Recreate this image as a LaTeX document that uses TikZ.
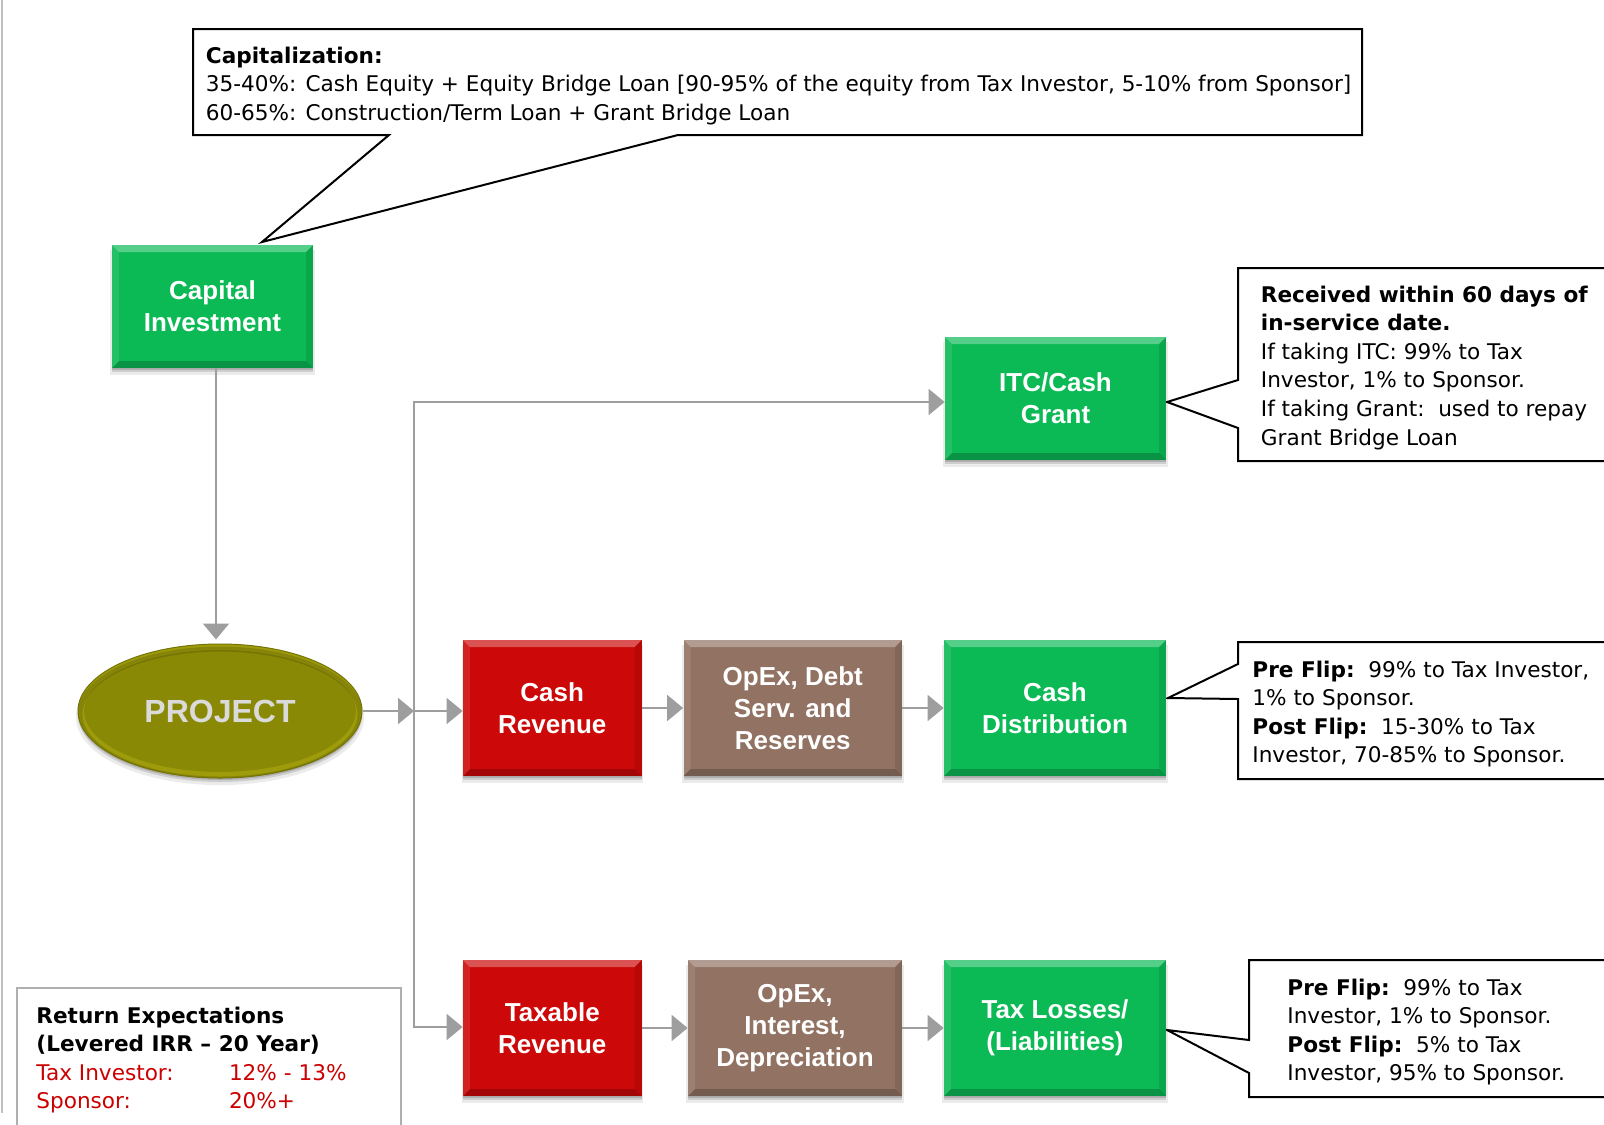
\documentclass[tikz,border=0pt]{standalone}
\usepackage{fontspec}
\setmainfont{Liberation Sans}
\newfontfamily\notefont{DejaVu Sans}
\usetikzlibrary{shapes.geometric,shadows,arrows.meta,calc}

\definecolor{boxgreen}{RGB}{11,185,85}
\definecolor{boxred}{RGB}{204,8,8}
\definecolor{boxbrown}{RGB}{145,114,99}
\definecolor{olivefill}{RGB}{137,137,5}
\definecolor{flowgray}{RGB}{158,158,158}
\definecolor{framegray}{RGB}{175,175,175}
\definecolor{notered}{RGB}{204,0,0}
\definecolor{projtext}{RGB}{218,218,218}

\tikzset{
  bevel/.style={path picture={
    \fill[white,opacity=.3] (path picture bounding box.north west) -- (path picture bounding box.north east)
      -- ([shift={(-3.5pt,-3.5pt)}]path picture bounding box.north east) -- ([shift={(3.5pt,-3.5pt)}]path picture bounding box.north west) -- cycle;
    \fill[black,opacity=.2] (path picture bounding box.south west) -- (path picture bounding box.south east)
      -- ([shift={(-3.5pt,3.5pt)}]path picture bounding box.south east) -- ([shift={(3.5pt,3.5pt)}]path picture bounding box.south west) -- cycle;
    \fill[white,opacity=.1] (path picture bounding box.north west) -- ([shift={(3.5pt,-3.5pt)}]path picture bounding box.north west)
      -- ([shift={(3.5pt,3.5pt)}]path picture bounding box.south west) -- (path picture bounding box.south west) -- cycle;
    \fill[black,opacity=.1] (path picture bounding box.north east) -- ([shift={(-3.5pt,-3.5pt)}]path picture bounding box.north east)
      -- ([shift={(-3.5pt,3.5pt)}]path picture bounding box.south east) -- (path picture bounding box.south east) -- cycle;
  }},
  softshadow/.style={
    drop shadow={shadow xshift=0pt, shadow yshift=-3pt, shadow scale=1.015, opacity=.08, fill=black},
    drop shadow={shadow xshift=0pt, shadow yshift=-2pt, opacity=.12, fill=black},
    drop shadow={shadow xshift=0pt, shadow yshift=-1pt, opacity=.15, fill=black}},
  flowbox/.style={rectangle, fill=#1, inner sep=0pt, text=white, align=center,
    font=\fontsize{13}{15.9}\selectfont\bfseries, bevel, softshadow},
  wide/.style={minimum width=111pt, minimum height=68pt},
  narrow/.style={minimum width=89.25pt, minimum height=68pt},
  flowarrow/.style={draw=flowgray, line width=1pt, -{Triangle[length=8pt,width=13pt]}},
  callout/.style={draw=black, line width=1pt, fill=white},
  notetext/.style={inner sep=0pt, anchor=base west, align=left,
    font=\notefont\fontsize{10.8}{14.3}\selectfont},
}

\begin{document}
\begin{tikzpicture}[x=0.5pt,y=-0.5pt]
\path[use as bounding box] (0,0) rectangle (1604,1124);
\clip (0,0) rectangle (1604,1124);
\fill[white] (0,0) rectangle (1604,1124);

% page edge line on the left
\draw[draw=framegray!80, line width=1pt] (1.5,0) -- (1.5,1113);

% ---- callouts ----
\draw[callout] (193,29) -- (1362,29) -- (1362,135) -- (678,135) -- (262,242) -- (389,135) -- (193,135) -- cycle;
\node[notetext] (captext) at (205.5,63) {\begin{tabular}[t]{@{}l@{}}
\textbf{Capitalization:}\\
35-40\%: Cash Equity + Equity Bridge Loan [90-95\% of the equity from Tax Investor, 5-10\% from Sponsor]\\
60-65\%: Construction/Term Loan + Grant Bridge Loan
\end{tabular}};

\draw[callout] (1238,268) -- (1610,268) -- (1610,461) -- (1238,461) -- (1238,428) -- (1167,402) -- (1238,380) -- cycle;
\node[notetext] (itctext) at (1260.5,302) {\begin{tabular}[t]{@{}l@{}}
\textbf{Received within 60 days of}\\
\textbf{in-service date.}\\
If taking ITC: 99\% to Tax\\
Investor, 1\% to Sponsor.\\
If taking Grant:\ \ used to repay\\
Grant Bridge Loan
\end{tabular}};

\draw[callout] (1238,642) -- (1610,642) -- (1610,779) -- (1238,779) -- (1238,699) -- (1168,698) -- (1238,664) -- cycle;
\node[notetext] (disttext) at (1252,677) {\begin{tabular}[t]{@{}l@{}}
\textbf{Pre Flip:}\ \ 99\% to Tax Investor,\\
1\% to Sponsor.\\
\textbf{Post Flip:}\ \ 15-30\% to Tax\\
Investor, 70-85\% to Sponsor.
\end{tabular}};

\draw[callout] (1249,960) -- (1610,960) -- (1610,1097) -- (1249,1097) -- (1249,1073) -- (1167,1030) -- (1249,1040) -- cycle;
\node[notetext] (losstext) at (1287,995) {\begin{tabular}[t]{@{}l@{}}
\textbf{Pre Flip:}\ \ 99\% to Tax\\
Investor, 1\% to Sponsor.\\
\textbf{Post Flip:}\ \ 5\% to Tax\\
Investor, 95\% to Sponsor.
\end{tabular}};

% return expectations panel
\draw[draw=framegray, line width=0.8pt, fill=white] (17,1140) -- (17,988) -- (401,988) -- (401,1140);
\node[notetext] (irrtext) at (36,1023) {\begin{tabular}[t]{@{}l@{}}
\textbf{Return Expectations}\\
\textbf{(Levered IRR – 20 Year)}\\
\textcolor{notered}{\makebox[96.3pt][l]{Tax Investor:}12\% - 13\%}\\
\textcolor{notered}{\makebox[96.3pt][l]{Sponsor:}20\%+}
\end{tabular}};

% ---- flow boxes ----
\node[flowbox=boxgreen, minimum width=100.5pt, minimum height=61.5pt] (cap) at (212.5,306.5) {Capital\\Investment};

\node[ellipse, fill=olivefill, draw=olivefill!85!black, line width=0.5pt,
  minimum width=142pt, minimum height=67pt, inner sep=0pt, softshadow,
  path picture={
    \draw[line width=3pt, draw=yellow!70!olivefill, opacity=.25] (path picture bounding box.center) ellipse (69.5pt and 32pt);
    \draw[line width=2.5pt, draw=black, opacity=.15] ([yshift=-1.5pt]path picture bounding box.center) ellipse (70pt and 32.5pt);
  },
  text=projtext, font=\fontsize{16}{19}\selectfont\bfseries] (proj) at (220,711) {PROJECT};

\node[flowbox=boxgreen, minimum width=110.5pt, minimum height=61.5pt] (itc) at (1055.5,398.5) {ITC/Cash\\Grant};

\node[flowbox=boxred, narrow] (cashrev) at (552.25,708) {Cash\\Revenue};
\node[flowbox=boxbrown, minimum width=109.25pt, minimum height=68pt] (opexa) at (792.75,708) {OpEx, Debt\\Serv. and\\Reserves};
\node[flowbox=boxgreen, wide] (dist) at (1055,708) {Cash\\Distribution};

\node[flowbox=boxred, narrow] (taxrev) at (552.25,1028) {Taxable\\Revenue};
\node[flowbox=boxbrown, minimum width=107pt, minimum height=68pt] (opexb) at (795,1028) {OpEx,\\Interest,\\Depreciation};
\node[flowbox=boxgreen, wide] (loss) at (1055,1028) {Tax Losses/\\(Liabilities)};

% ---- connectors ----
\coordinate (jt) at (414,402);
\coordinate (jm) at (414,711);
\coordinate (jb) at (414,1027);

\draw[flowarrow, shorten >=2pt] ([xshift=1.75pt]cap.south) -- ([xshift=1.75pt]cap.south |- proj.north);
\draw[flowarrow] (proj.east) -- (jm);
\draw[flowarrow] (jm) -- (jt) -- (jt -| itc.west);
\draw[flowarrow] (jm) -- (jb) -- (jb -| taxrev.west);
\draw[flowarrow] (jm) -- (jm -| cashrev.west);

\draw[flowarrow] (cashrev.east) -- (opexa.west);
\draw[flowarrow] (opexa.east) -- (dist.west);
\draw[flowarrow] (taxrev.east) -- (opexb.west);
\draw[flowarrow] (opexb.east) -- (loss.west);
\end{tikzpicture}
\end{document}
